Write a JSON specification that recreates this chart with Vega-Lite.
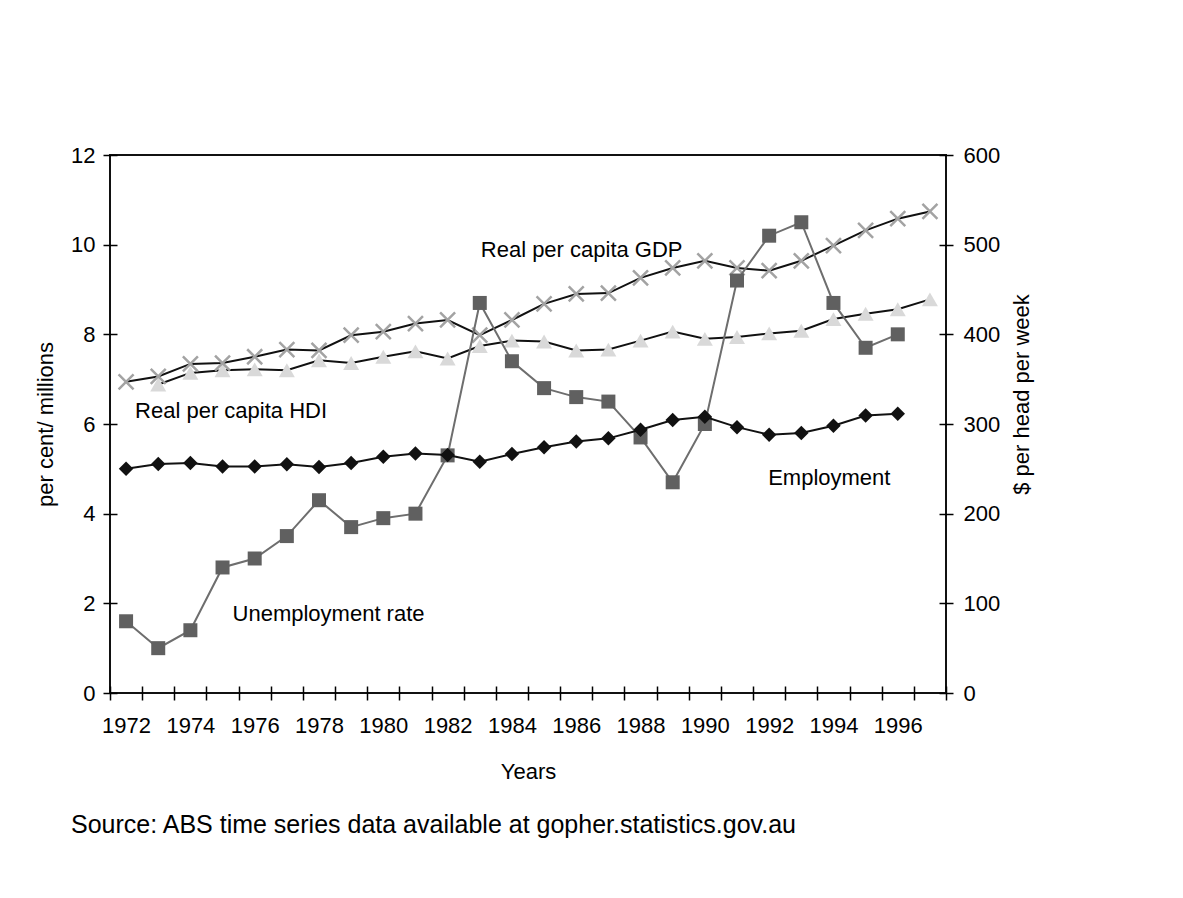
{
  "$schema": "https://vega.github.io/schema/vega-lite/v6.json",
  "width": 836,
  "height": 538,
  "autosize": {"type": "none"},
  "padding": {"left": 110, "top": 155, "right": 237, "bottom": 205},
  "background": "white",
  "config": {
    "font": "Liberation Sans",
    "view": {"stroke": "#111111", "strokeWidth": 2},
    "axis": {
      "labelFont": "Liberation Sans", "titleFont": "Liberation Sans",
      "labelFontSize": 22, "titleFontSize": 22,
      "labelColor": "#000000", "titleColor": "#000000", "titleFontWeight": "normal",
      "domain": false, "offset": -7,
      "tickColor": "#000000", "tickWidth": 1.5, "tickSize": 14, "grid": false
    },
    "title": {"font": "Liberation Sans", "fontSize": 25, "fontWeight": "normal", "color": "#000000"}
  },
  "title": {
    "text": "Source: ABS time series data available at gopher.statistics.gov.au",
    "orient": "bottom", "anchor": "start", "frame": "group", "dx": -39, "offset": 31, "fontSize": 25
  },
  "datasets": {
    "series": [
      {"year": 1972, "series": "Unemployment rate", "value": 1.6},
      {"year": 1973, "series": "Unemployment rate", "value": 1.0},
      {"year": 1974, "series": "Unemployment rate", "value": 1.4},
      {"year": 1975, "series": "Unemployment rate", "value": 2.8},
      {"year": 1976, "series": "Unemployment rate", "value": 3.0},
      {"year": 1977, "series": "Unemployment rate", "value": 3.5},
      {"year": 1978, "series": "Unemployment rate", "value": 4.3},
      {"year": 1979, "series": "Unemployment rate", "value": 3.7},
      {"year": 1980, "series": "Unemployment rate", "value": 3.9},
      {"year": 1981, "series": "Unemployment rate", "value": 4.0},
      {"year": 1982, "series": "Unemployment rate", "value": 5.3},
      {"year": 1983, "series": "Unemployment rate", "value": 8.7},
      {"year": 1984, "series": "Unemployment rate", "value": 7.4},
      {"year": 1985, "series": "Unemployment rate", "value": 6.8},
      {"year": 1986, "series": "Unemployment rate", "value": 6.6},
      {"year": 1987, "series": "Unemployment rate", "value": 6.5},
      {"year": 1988, "series": "Unemployment rate", "value": 5.7},
      {"year": 1989, "series": "Unemployment rate", "value": 4.7},
      {"year": 1990, "series": "Unemployment rate", "value": 6.0},
      {"year": 1991, "series": "Unemployment rate", "value": 9.2},
      {"year": 1992, "series": "Unemployment rate", "value": 10.2},
      {"year": 1993, "series": "Unemployment rate", "value": 10.5},
      {"year": 1994, "series": "Unemployment rate", "value": 8.7},
      {"year": 1995, "series": "Unemployment rate", "value": 7.7},
      {"year": 1996, "series": "Unemployment rate", "value": 8.0},
      {"year": 1972, "series": "Employment", "value": 5.0},
      {"year": 1973, "series": "Employment", "value": 5.11},
      {"year": 1974, "series": "Employment", "value": 5.13},
      {"year": 1975, "series": "Employment", "value": 5.05},
      {"year": 1976, "series": "Employment", "value": 5.05},
      {"year": 1977, "series": "Employment", "value": 5.1},
      {"year": 1978, "series": "Employment", "value": 5.04},
      {"year": 1979, "series": "Employment", "value": 5.13},
      {"year": 1980, "series": "Employment", "value": 5.27},
      {"year": 1981, "series": "Employment", "value": 5.34},
      {"year": 1982, "series": "Employment", "value": 5.31},
      {"year": 1983, "series": "Employment", "value": 5.16},
      {"year": 1984, "series": "Employment", "value": 5.33},
      {"year": 1985, "series": "Employment", "value": 5.48},
      {"year": 1986, "series": "Employment", "value": 5.61},
      {"year": 1987, "series": "Employment", "value": 5.68},
      {"year": 1988, "series": "Employment", "value": 5.87},
      {"year": 1989, "series": "Employment", "value": 6.09},
      {"year": 1990, "series": "Employment", "value": 6.16},
      {"year": 1991, "series": "Employment", "value": 5.93},
      {"year": 1992, "series": "Employment", "value": 5.76},
      {"year": 1993, "series": "Employment", "value": 5.8},
      {"year": 1994, "series": "Employment", "value": 5.96},
      {"year": 1995, "series": "Employment", "value": 6.19},
      {"year": 1996, "series": "Employment", "value": 6.23},
      {"year": 1972, "series": "Real per capita GDP", "value": 347},
      {"year": 1973, "series": "Real per capita GDP", "value": 353},
      {"year": 1974, "series": "Real per capita GDP", "value": 367},
      {"year": 1975, "series": "Real per capita GDP", "value": 368},
      {"year": 1976, "series": "Real per capita GDP", "value": 375},
      {"year": 1977, "series": "Real per capita GDP", "value": 383},
      {"year": 1978, "series": "Real per capita GDP", "value": 382},
      {"year": 1979, "series": "Real per capita GDP", "value": 399},
      {"year": 1980, "series": "Real per capita GDP", "value": 403},
      {"year": 1981, "series": "Real per capita GDP", "value": 412},
      {"year": 1982, "series": "Real per capita GDP", "value": 416},
      {"year": 1983, "series": "Real per capita GDP", "value": 399},
      {"year": 1984, "series": "Real per capita GDP", "value": 416},
      {"year": 1985, "series": "Real per capita GDP", "value": 434},
      {"year": 1986, "series": "Real per capita GDP", "value": 445},
      {"year": 1987, "series": "Real per capita GDP", "value": 446},
      {"year": 1988, "series": "Real per capita GDP", "value": 463},
      {"year": 1989, "series": "Real per capita GDP", "value": 474},
      {"year": 1990, "series": "Real per capita GDP", "value": 482},
      {"year": 1991, "series": "Real per capita GDP", "value": 474},
      {"year": 1992, "series": "Real per capita GDP", "value": 471},
      {"year": 1993, "series": "Real per capita GDP", "value": 482},
      {"year": 1994, "series": "Real per capita GDP", "value": 499},
      {"year": 1995, "series": "Real per capita GDP", "value": 516},
      {"year": 1996, "series": "Real per capita GDP", "value": 529},
      {"year": 1997, "series": "Real per capita GDP", "value": 537},
      {"year": 1973, "series": "Real per capita HDI", "value": 344},
      {"year": 1974, "series": "Real per capita HDI", "value": 357},
      {"year": 1975, "series": "Real per capita HDI", "value": 360},
      {"year": 1976, "series": "Real per capita HDI", "value": 361},
      {"year": 1977, "series": "Real per capita HDI", "value": 360},
      {"year": 1978, "series": "Real per capita HDI", "value": 371},
      {"year": 1979, "series": "Real per capita HDI", "value": 368},
      {"year": 1980, "series": "Real per capita HDI", "value": 375},
      {"year": 1981, "series": "Real per capita HDI", "value": 381},
      {"year": 1982, "series": "Real per capita HDI", "value": 373},
      {"year": 1983, "series": "Real per capita HDI", "value": 387},
      {"year": 1984, "series": "Real per capita HDI", "value": 393},
      {"year": 1985, "series": "Real per capita HDI", "value": 392},
      {"year": 1986, "series": "Real per capita HDI", "value": 382},
      {"year": 1987, "series": "Real per capita HDI", "value": 383},
      {"year": 1988, "series": "Real per capita HDI", "value": 393},
      {"year": 1989, "series": "Real per capita HDI", "value": 403},
      {"year": 1990, "series": "Real per capita HDI", "value": 395},
      {"year": 1991, "series": "Real per capita HDI", "value": 397},
      {"year": 1992, "series": "Real per capita HDI", "value": 401},
      {"year": 1993, "series": "Real per capita HDI", "value": 404},
      {"year": 1994, "series": "Real per capita HDI", "value": 417},
      {"year": 1995, "series": "Real per capita HDI", "value": 423},
      {"year": 1996, "series": "Real per capita HDI", "value": 428},
      {"year": 1997, "series": "Real per capita HDI", "value": 439}
    ],
    "notes": [
      {"year": 1983, "value": 9.72, "label": "Real per capita GDP"},
      {"year": 1972, "value": 6.14, "label": "Real per capita HDI"},
      {"year": 1992, "value": 4.65, "label": "Employment"},
      {"year": 1975, "value": 1.6, "label": "Unemployment rate"}
    ]
  },
  "data": {"name": "series"},
  "encoding": {
    "x": {
      "field": "year", "type": "ordinal",
      "scale": {"type": "band", "paddingInner": 0, "paddingOuter": 0,
        "domain": [1972,1973,1974,1975,1976,1977,1978,1979,1980,1981,1982,1983,1984,1985,1986,1987,1988,1989,1990,1991,1992,1993,1994,1995,1996,1997]},
      "axis": {
        "title": "Years", "tickBand": "extent", "labelAngle": 0, "labelOverlap": false,
        "labelExpr": "datum.value % 2 == 0 ? datum.label : ''",
        "labelPadding": 15, "titlePadding": 25
      }
    }
  },
  "layer": [
    {
      "transform": [{"filter": "datum.series == 'Real per capita GDP' || datum.series == 'Real per capita HDI'"}],
      "encoding": {
        "y": {"field": "value", "type": "quantitative",
          "scale": {"domain": [0, 600], "nice": false, "zero": true},
          "axis": {"orient": "right", "values": [0,100,200,300,400,500,600], "title": "$ per head per week",
            "labelPadding": 10, "titlePadding": 12, "titleAngle": 270, "titleBaseline": "top", "titleY": 239}}
      },
      "layer": [
        {"transform": [{"filter": "datum.series == 'Real per capita HDI'"}],
         "mark": {"type": "line", "color": "#111111", "strokeWidth": 2}},
        {"transform": [{"filter": "datum.series == 'Real per capita HDI'"}],
         "mark": {"type": "point", "shape": "triangle-up", "filled": true, "color": "#d9d9d9", "size": 256, "opacity": 1}},
        {"transform": [{"filter": "datum.series == 'Real per capita GDP'"}],
         "mark": {"type": "line", "color": "#111111", "strokeWidth": 2}},
        {"transform": [{"filter": "datum.series == 'Real per capita GDP'"}],
         "mark": {"type": "point", "shape": "M-1,-1L1,1M1,-1L-1,1", "filled": false, "stroke": "#a3a3a3", "strokeWidth": 2.5, "size": 225, "opacity": 1}}
      ]
    },
    {
      "encoding": {
        "y": {"field": "value", "type": "quantitative",
          "scale": {"domain": [0, 12], "nice": false, "zero": true},
          "axis": {"orient": "left", "values": [0,2,4,6,8,10,12], "title": "per cent/ millions",
            "labelPadding": 8, "titlePadding": 13}}
      },
      "layer": [
        {"transform": [{"filter": "datum.series == 'Unemployment rate'"}],
         "mark": {"type": "line", "color": "#6e6e6e", "strokeWidth": 2}},
        {"transform": [{"filter": "datum.series == 'Unemployment rate'"}],
         "mark": {"type": "point", "shape": "square", "filled": true, "color": "#606060", "size": 196, "opacity": 1}},
        {"transform": [{"filter": "datum.series == 'Employment'"}],
         "mark": {"type": "line", "color": "#111111", "strokeWidth": 2}},
        {"transform": [{"filter": "datum.series == 'Employment'"}],
         "mark": {"type": "point", "shape": "diamond", "filled": true, "color": "#111111", "size": 210, "opacity": 1}},
        {"data": {"name": "notes"}, "transform": [{"filter": "datum.label == 'Real per capita GDP'"}],
         "mark": {"type": "text", "align": "left", "baseline": "alphabetic", "dx": 1, "fontSize": 22, "font": "Liberation Sans", "color": "#000000"},
         "encoding": {"text": {"field": "label"}}},
        {"data": {"name": "notes"}, "transform": [{"filter": "datum.label == 'Real per capita HDI'"}],
         "mark": {"type": "text", "align": "left", "baseline": "alphabetic", "dx": 9, "fontSize": 22, "font": "Liberation Sans", "color": "#000000"},
         "encoding": {"text": {"field": "label"}}},
        {"data": {"name": "notes"}, "transform": [{"filter": "datum.label == 'Employment'"}],
         "mark": {"type": "text", "align": "left", "baseline": "alphabetic", "dx": -1, "fontSize": 22, "font": "Liberation Sans", "color": "#000000"},
         "encoding": {"text": {"field": "label"}}},
        {"data": {"name": "notes"}, "transform": [{"filter": "datum.label == 'Unemployment rate'"}],
         "mark": {"type": "text", "align": "left", "baseline": "alphabetic", "dx": 10, "fontSize": 22, "font": "Liberation Sans", "color": "#000000"},
         "encoding": {"text": {"field": "label"}}}
      ]
    }
  ],
  "resolve": {"scale": {"y": "independent"}}
}
